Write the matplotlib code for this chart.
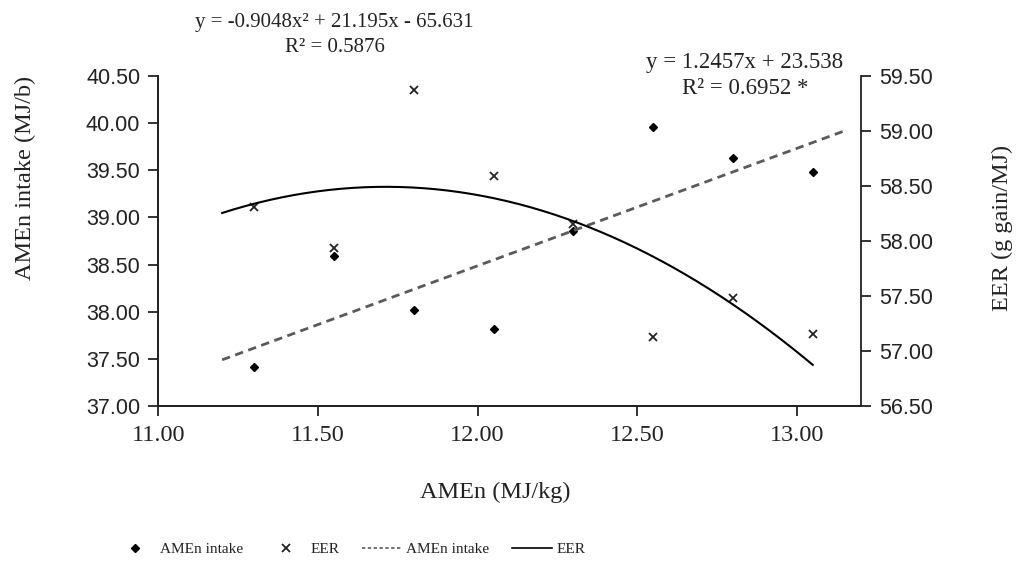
import numpy as np
import matplotlib as mpl
mpl.use('agg')
import matplotlib.pyplot as plt
from matplotlib.lines import Line2D
from matplotlib.ticker import FormatStrFormatter

SERIF = 'Liberation Serif'
SANS = 'Liberation Sans'
INK = '#222222'

# Data
amen = [11.30, 11.55, 11.80, 12.05, 12.30, 12.55, 12.80, 13.05]
amen_intake = [37.41, 38.59, 38.02, 37.82, 38.86, 39.96, 39.63, 39.48]
eer = [58.31, 57.94, 59.37, 58.59, 58.15, 57.13, 57.48, 57.15]

# Trend lines as printed on the chart
intake_fit = [1.2457, 23.538]           # y = 1.2457x + 23.538
eer_fit = [-0.9048, 21.195, -65.631]    # y = -0.9048x^2 + 21.195x - 65.631
intake_fit_range = (11.2, 13.15)
eer_fit_range = (11.2, 13.05)

fig = plt.figure(figsize=(10.16, 5.74), dpi=100)
ax = fig.add_axes([0.1558, 0.2927, 0.6913, 0.5749])
ax2 = ax.twinx()

# Points
ax.plot(amen, amen_intake, linestyle='none', marker='D', markersize=4.5, color='black')
ax2.plot(amen, eer, linestyle='none', marker='x', markersize=6, markeredgewidth=1.3, color=INK)

# Trend lines
xl = np.linspace(*intake_fit_range, 50)
ax.plot(xl, np.polyval(intake_fit, xl), linestyle=(0, (3, 2)), linewidth=2, color='#5a5a5a')
xq = np.linspace(*eer_fit_range, 200)
ax2.plot(xq, np.polyval(eer_fit, xq), linewidth=1.5, color='black')

# Axes
ax.set_xlim(11.0, 13.2)
ax.set_ylim(37.0, 40.5)
ax2.set_ylim(56.5, 59.5)
ax.set_xticks(np.arange(11.0, 13.01, 0.5))
ax.set_yticks(np.arange(37.0, 40.51, 0.5))
ax2.set_yticks(np.arange(56.5, 59.51, 0.5))
for a in (ax, ax2):
    a.xaxis.set_major_formatter(FormatStrFormatter('%.2f'))
    a.yaxis.set_major_formatter(FormatStrFormatter('%.2f'))
    a.spines['top'].set_visible(False)
    for s in a.spines.values():
        s.set_linewidth(1.3)
        s.set_color(INK)
    a.tick_params(length=7, width=1.3, color=INK, labelcolor=INK)
    a.tick_params(axis='y', labelsize=15.5, pad=6, labelfontfamily=SANS)
ax.spines['right'].set_visible(False)
ax.tick_params(axis='x', labelsize=17.5, pad=7, labelfontfamily=SERIF)

fig.text(0.487, 0.143, 'AMEn (MJ/kg)', family=SERIF, fontsize=17.5, ha='center', va='center', color=INK)
fig.text(0.025, 0.69, 'AMEn intake (MJ/b)', family=SERIF, fontsize=17.5, rotation=90,
         ha='center', va='center', color=INK)
fig.text(0.987, 0.603, 'EER (g gain/MJ)', family=SERIF, fontsize=17.5, rotation=90,
         ha='center', va='center', color=INK)

# Equations
fig.text(0.329, 0.961, 'y = -0.9048x² + 21.195x - 65.631', family=SERIF, fontsize=15,
         ha='center', va='center', color=INK)
fig.text(0.330, 0.917, 'R² = 0.5876', family=SERIF, fontsize=15, ha='center', va='center', color=INK)
fig.text(0.733, 0.891, 'y = 1.2457x + 23.538', family=SERIF, fontsize=16.5, ha='center', va='center',
         color=INK)
fig.text(0.734, 0.845, 'R² = 0.6952 *', family=SERIF, fontsize=16.5, ha='center', va='center', color=INK)

# Legend
handles = [
    Line2D([], [], linestyle='none', marker='D', markersize=4.5, color='black'),
    Line2D([], [], linestyle='none', marker='x', markersize=6, markeredgewidth=1.3, color=INK),
    Line2D([], [], linestyle=(0, (2, 1.5)), linewidth=1.2, color='#5a5a5a'),
    Line2D([], [], linewidth=1.2, color='black'),
]
labels = ['AMEn intake', 'EER', 'AMEn intake', 'EER']
fig.legend(handles, labels, loc='center', bbox_to_anchor=(0.345, 0.043), ncol=4, frameon=False,
           prop={'family': SERIF, 'size': 11}, handlelength=2.6, handletextpad=0.3,
           columnspacing=1.5, labelcolor=INK)

fig.savefig('out.png', dpi=100)
